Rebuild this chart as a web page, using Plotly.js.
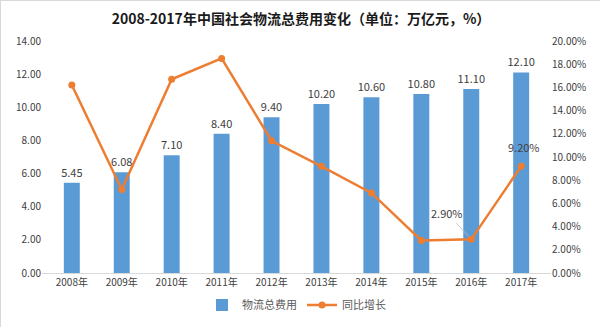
<!DOCTYPE html>
<html><head><meta charset="utf-8">
<script src="https://cdn.plot.ly/plotly-3.0.1.min.js"></script>
<style>html,body{margin:0;padding:0;background:#fff}#c{width:600px;height:327px;box-sizing:border-box;border:1px solid #d9d9d9}</style>
</head><body><div id="c"></div>
<script>
const years = ['2008年','2009年','2010年','2011年','2012年','2013年','2014年','2015年','2016年','2017年'];
const cost = [5.45, 6.08, 7.10, 8.40, 9.40, 10.20, 10.60, 10.80, 11.10, 12.10];
const growth = [16.2, 7.2, 16.7, 18.5, 11.4, 9.2, 6.9, 2.8, 2.9, 9.2];
const leftTicks = [0,2,4,6,8,10,12,14];
const rightTicks = [0,2,4,6,8,10,12,14,16,18,20];

const font = "'Noto Sans CJK SC', 'Noto Sans', sans-serif";
const bars = {
  type:'bar', x: years, y: cost, name:'物流总费用',
  marker:{color:'#5b9bd5'},
  text: cost.map(v=>v.toFixed(2)), textposition:'outside', cliponaxis:false, constraintext:'none',
  textfont:{size:11, color:'#404040', family:font}
};
const line = {
  type:'scatter', mode:'lines+markers', x: years, y: growth, yaxis:'y2', name:'同比增长',
  line:{color:'#ed7d31', width:2.5}, marker:{color:'#ed7d31', size:7}
};
const annotations = [
  {x: years[8], y: growth[8], xref:'x', yref:'y2', text: growth[8].toFixed(2)+'%', showarrow:true,
   ax:-24, ay:-26, arrowhead:0, arrowwidth:0.8, arrowcolor:'#bfbfbf', standoff:4,
   font:{size:11,color:'#404040',family:font}},
  {x: years[9], y: growth[9], xref:'x', yref:'y2', text: growth[9].toFixed(2)+'%', showarrow:false,
   yshift:19, xshift:3, font:{size:11,color:'#404040',family:font}}
];
const layout = {
  width:600, height:327,
  margin:{l:41, r:50, t:40, b:55, autoexpand:false},
  paper_bgcolor:'#fff', plot_bgcolor:'#fff',
  title:{text:'<b>2008-2017年中国社会物流总费用变化（单位：万亿元，%）</b>', x:0.5, xanchor:'center', y:0.945, yanchor:'middle',
    font:{size:14, color:'#1a1a1a', family:font}},
  bargap:0.68,
  showlegend:true,
  legend:{orientation:'h', x:0.5, xanchor:'center', y:-0.075, yanchor:'top', font:{size:11,color:'#595959',family:font}, traceorder:'normal'},
  xaxis:{type:'category', showline:true, linecolor:'#d9d9d9', linewidth:1, ticks:'', tickfont:{size:10,color:'#404040',family:font}, showgrid:false},
  yaxis:{range:[0,14], tickvals:leftTicks, ticktext:leftTicks.map(v=>v.toFixed(2)), showgrid:false, zeroline:false, showline:false,
    tickfont:{size:10,color:'#404040',family:font}},
  yaxis2:{overlaying:'y', side:'right', range:[0,20], tickvals:rightTicks, ticktext:rightTicks.map(v=>v.toFixed(2)+'%'), showgrid:false, zeroline:false,
    tickfont:{size:10,color:'#404040',family:font}},
  annotations: annotations
};
Plotly.newPlot('c',[bars,line],layout,{displayModeBar:false, staticPlot:true});
</script></body></html>
